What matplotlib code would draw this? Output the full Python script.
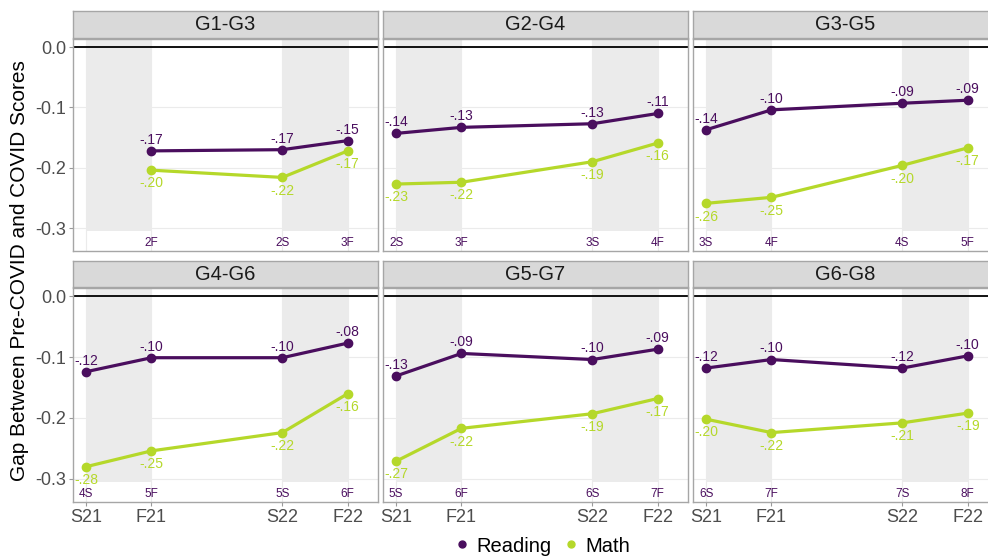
import matplotlib
matplotlib.use('Agg')
import matplotlib.pyplot as plt
from matplotlib.lines import Line2D
from matplotlib.patches import Rectangle

plt.rcParams['font.family'] = ['Liberation Sans', 'DejaVu Sans']

# ---------------- data ----------------
seasons = ['S21', 'F21', 'S22', 'F22']
season_x = [0, 4, 12, 16]          # months since spring 2021
panels = ['G1-G3', 'G2-G4', 'G3-G5', 'G4-G6', 'G5-G7', 'G6-G8']

reading = [
    [None, -0.172, -0.170, -0.155],
    [-0.143, -0.133, -0.127, -0.110],
    [-0.137, -0.104, -0.093, -0.088],
    [-0.124, -0.101, -0.101, -0.077],
    [-0.131, -0.094, -0.104, -0.087],
    [-0.118, -0.104, -0.118, -0.098],
]
math_ = [
    [None, -0.204, -0.216, -0.172],
    [-0.227, -0.224, -0.190, -0.159],
    [-0.259, -0.249, -0.196, -0.167],
    [-0.280, -0.254, -0.224, -0.160],
    [-0.271, -0.217, -0.193, -0.168],
    [-0.202, -0.224, -0.208, -0.192],
]
grade_labels = [
    [None, '2F', '2S', '3F'],
    ['2S', '3F', '3S', '4F'],
    ['3S', '4F', '4S', '5F'],
    ['4S', '5F', '5S', '6F'],
    ['5S', '6F', '6S', '7F'],
    ['6S', '7F', '7S', '8F'],
]
series_names = ['Reading', 'Math']
y_ticks = [0.0, -0.1, -0.2, -0.3]

# ---------------- style ----------------
C_READ = '#4A0E5E'
C_MATH = '#B5D82A'
GRID = '#EBEBEB'
BORDER = '#A6A6A6'
SHADE = '#EBEBEB'

W, H = 988, 558
fig = plt.figure(figsize=(W / 100, H / 100), dpi=100)


def rect(x0, y0, x1, y1):
    return [x0 / W, 1 - y1 / H, (x1 - x0) / W, (y1 - y0) / H]


col_left = [73, 383, 693]
col_w = 305
rows = [((11, 38), (39, 251)), ((261, 287), (288, 502))]


def fmt(v):
    s = f"{v:.2f}"
    return s.replace('0.', '.', 1)


for i, name in enumerate(panels):
    r, c = divmod(i, 3)
    (sy0, sy1), (py0, py1) = rows[r]
    x0 = col_left[c]
    ax = fig.add_axes(rect(x0, py0, x0 + col_w, py1))
    ax.set_xlim(-0.8, 17.85)
    ax.set_ylim(-0.338, 0.0135)
    ax.set_axisbelow(True)
    ax.set_xticks(season_x)
    ax.set_yticks(y_ticks)
    ax.grid(True, color=GRID, lw=0.8)
    for sp in ax.spines.values():
        sp.set_color(BORDER)
        sp.set_linewidth(1.0)
    ax.tick_params(color='#9A9A9A', length=3, width=0.8,
                   labelsize=13, labelcolor='#4D4D4D', pad=2)
    if r == 0:
        ax.tick_params(axis='x', labelbottom=False, length=0)
    else:
        ax.set_xticklabels(seasons)
    if c == 0:
        ax.set_yticklabels([f"{t:.1f}" if t != 0 else "0.0" for t in y_ticks])
    else:
        ax.tick_params(axis='y', labelleft=False, length=0)

    # shaded periods (S21-F21 and S22-F22)
    for a, b in [(season_x[0], season_x[1]), (season_x[2], season_x[3])]:
        ax.add_patch(Rectangle((a, -0.305), b - a, 1.0, facecolor=SHADE,
                               edgecolor='none', zorder=0.6))
    ax.axhline(0, color='black', lw=1.3, zorder=2)

    for vals, col, dy in [(reading[i], C_READ, 8.0), (math_[i], C_MATH, -9.5)]:
        xs = [x for x, v in zip(season_x, vals) if v is not None]
        ys = [v for v in vals if v is not None]
        ax.plot(xs, ys, color=col, lw=2.3, marker='o', ms=6, zorder=3,
                solid_capstyle='round')
        for x, y in zip(xs, ys):
            ax.annotate(fmt(y), (x, y), xytext=(0, dy), textcoords='offset points',
                        ha='center', va='center', fontsize=10, color=col, zorder=4)

    for x, lab in zip(season_x, grade_labels[i]):
        if lab is not None:
            ax.text(x, -0.325, lab, ha='center', va='center', fontsize=8.5,
                    color=C_READ)

    # strip
    sax = fig.add_axes(rect(x0, sy0, x0 + col_w, sy1))
    sax.set_facecolor('#D9D9D9')
    sax.set_xticks([])
    sax.set_yticks([])
    for sp in sax.spines.values():
        sp.set_color(BORDER)
        sp.set_linewidth(1.0)
    sax.text(0.5, 0.5, name, ha='center', va='center', fontsize=14.5,
             color='#1A1A1A', transform=sax.transAxes)

fig.text(20 / W, 1 - 271 / H, 'Gap Between Pre-COVID and COVID Scores',
         rotation=90, ha='center', va='center', fontsize=15, color='black')

handles = [Line2D([], [], color=col, marker='o', ls='none', ms=5)
           for col in (C_READ, C_MATH)]
fig.legend(handles, series_names, loc='center', ncol=2, frameon=False,
           bbox_to_anchor=(541 / W, 1 - 546 / H), fontsize=14.5,
           handletextpad=0.2, columnspacing=0.5, handlelength=1.0,
           borderaxespad=0, borderpad=0)

fig.savefig('out.png', dpi=100)
